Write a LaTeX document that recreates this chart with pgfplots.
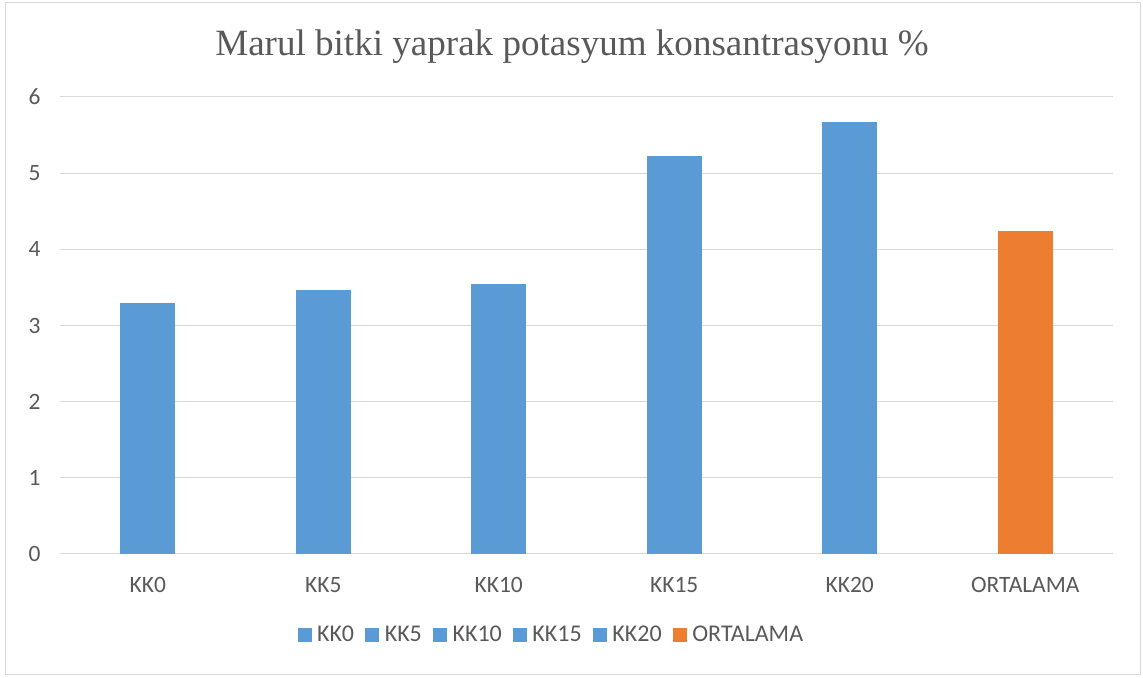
\documentclass[border=0pt]{standalone}
\usepackage{pgfplots}
\pgfplotsset{compat=1.18}
\usepackage{fontspec}
\setmainfont{Carlito}
\newfontfamily\titlefont{Liberation Serif}
\definecolor{barblue}{HTML}{5B9BD5}
\definecolor{barorange}{HTML}{ED7D31}
\definecolor{txtgray}{HTML}{595959}
\definecolor{gridgray}{HTML}{D9D9D9}
\definecolor{framegray}{HTML}{D9D9D9}
\begin{document}
\begin{tikzpicture}
\useasboundingbox (0pt,0pt) rectangle (857.25pt,508.5pt);
\draw[framegray, line width=0.75pt] (3.75pt,2.25pt) rectangle (855pt,506.25pt);
\node[anchor=base, text=txtgray, font=\titlefont\fontsize{27.8}{32}\selectfont] at (429pt,466.5pt) {Marul bitki yaprak potasyum konsantrasyonu \%};
\begin{axis}[
  at={(45pt,93pt)}, anchor=south west,
  scale only axis, width=789.75pt, height=342.75pt,
  ybar, bar width=0.313,
  xmin=-0.5, xmax=5.5, ymin=0, ymax=6,
  xtick={0,1,2,3,4,5},
  xticklabels={KK0,KK5,KK10,KK15,KK20,ORTALAMA},
  ytick={0,1,2,3,4,5,6},
  major tick length=0pt,
  axis line style={draw=none},
  ymajorgrids, grid style={gridgray, line width=0.75pt},
  tick label style={text=txtgray, font=\fontsize{17.6}{21}\selectfont},
  /pgf/number format/assume math mode=true,
  xticklabel style={yshift=-14pt},
  yticklabel style={xshift=-11pt},
  legend columns=-1,
  legend style={draw=none, fill=none, at={(0.467,-0.177)}, anchor=center,
    font=\fontsize{18}{21}\selectfont, text=txtgray,
    /tikz/every odd column/.append style={column sep=2pt},
    /tikz/every even column/.append style={column sep=6.5pt}},
  legend image code/.code={\fill[#1] (0pt,-5.25pt) rectangle (10.5pt,5.25pt);},
]
\addplot[fill=barblue, draw=none, bar shift=0pt] coordinates {(0,3.29)};
\addplot[fill=barblue, draw=none, bar shift=0pt] coordinates {(1,3.47)};
\addplot[fill=barblue, draw=none, bar shift=0pt] coordinates {(2,3.55)};
\addplot[fill=barblue, draw=none, bar shift=0pt] coordinates {(3,5.22)};
\addplot[fill=barblue, draw=none, bar shift=0pt] coordinates {(4,5.67)};
\addplot[fill=barorange, draw=none, bar shift=0pt] coordinates {(5,4.24)};
\legend{KK0,KK5,KK10,KK15,KK20,ORTALAMA}
\end{axis}
\end{tikzpicture}
\end{document}
